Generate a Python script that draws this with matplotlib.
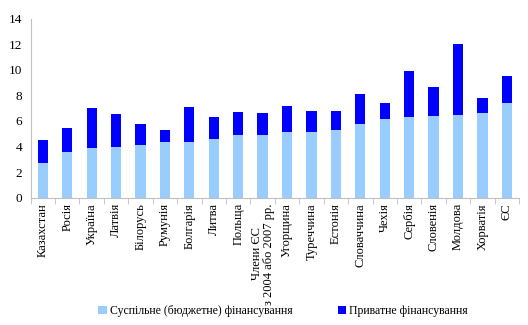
import numpy as np
import matplotlib
matplotlib.use("Agg")
import matplotlib.pyplot as plt

# ------------------------------------------------------------------
countries = ["Казахстан", "Росія", "Україна", "Латвія", "Білорусь",
             "Румунія", "Болгарія", "Литва", "Польща",
             "Члени ЄС\nз 2004 або 2007 рр.", "Угорщина", "Туреччина",
             "Естонія", "Словаччина", "Чехія", "Сербія", "Словенія",
             "Молдова", "Хорватія", "ЄС"]

public = [2.70, 3.56, 3.87, 3.97, 4.13, 4.34, 4.39, 4.57, 4.89, 4.91,
          5.12, 5.12, 5.31, 5.75, 6.17, 6.32, 6.40, 6.46, 6.66, 7.40]
total = [4.50, 5.49, 7.05, 6.56, 5.80, 5.28, 7.08, 6.35, 6.69, 6.64,
         7.16, 6.79, 6.77, 8.15, 7.42, 9.95, 8.65, 12.02, 7.84, 9.51]
private = [t - p for t, p in zip(total, public)]

yticks = [0, 2, 4, 6, 8, 10, 12, 14]
labels = ["Суспільне (бюджетне) фінансування", "Приватне фінансування"]
# ------------------------------------------------------------------

plt.rcParams['font.family'] = ['Liberation Serif', 'DejaVu Serif']

fig = plt.figure(figsize=(5.28, 3.25), dpi=100)
ax = fig.add_axes([0.058, 0.392, 0.925, 0.55])

x = np.arange(len(countries))
ax.bar(x, public, width=0.42, color='#99ccff', label=labels[0])
ax.bar(x, private, width=0.42, bottom=public, color='#0000ff', label=labels[1])

ax.set_xlim(-0.5, len(countries) - 0.5)
ax.set_ylim(0, 14)
ax.set_yticks(yticks)
ax.tick_params(axis='y', length=0, labelsize=9.5, pad=6)

ax.set_xticks(x)
ax.set_xticklabels(countries, rotation=90, fontsize=9, va='top', ha='center',
                   linespacing=1.0)
ax.tick_params(axis='x', which='major', length=0, pad=4)
ax.set_xticks(np.arange(-0.5, len(countries), 1), minor=True)
ax.tick_params(axis='x', which='minor', length=4, color='#c0c0c0', direction='out')

for s in ['top', 'right']:
    ax.spines[s].set_visible(False)
for s in ['left', 'bottom']:
    ax.spines[s].set_color('#c0c0c0')
    ax.spines[s].set_linewidth(0.8)

ax.legend(loc='center', bbox_to_anchor=(0.517, -0.635), ncol=2, frameon=False,
          fontsize=8.5, handlelength=0.7, handleheight=0.7, handletextpad=0.3,
          columnspacing=3.8)

plt.savefig('out.png', dpi=100)
